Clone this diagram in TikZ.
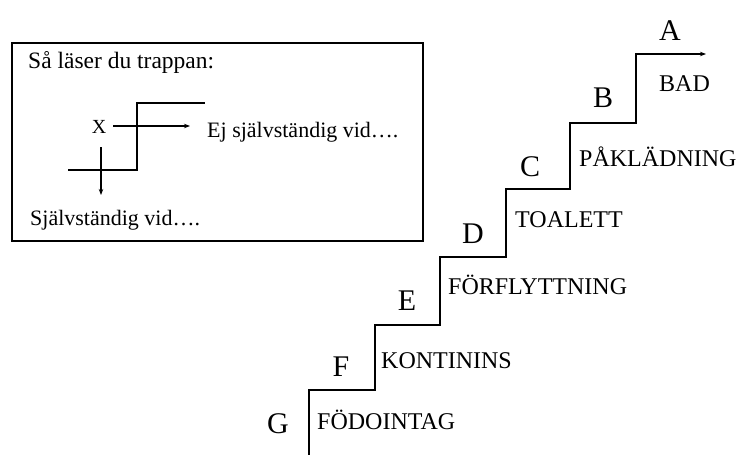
\documentclass[tikz,border=0pt]{standalone}
\usepackage{fontspec}
\setmainfont{Liberation Serif}
\usetikzlibrary{arrows.meta}
\begin{document}
\begin{tikzpicture}[x=1pt,y=-1pt,
  line/.style={line width=1.6pt,line cap=rect},
  tip/.style={-{Stealth[length=6pt,width=4.5pt]}},
  letter/.style={anchor=base,inner sep=0pt,font=\fontsize{30}{30}\selectfont},
  stlabel/.style={anchor=base west,inner sep=0pt,font=\fontsize{24}{24}\selectfont},
  legtext/.style={anchor=base west,inner sep=0pt,font=\fontsize{22}{22}\selectfont}]
\useasboundingbox (0,0) rectangle (739,455);
% legend box
\draw[line width=1.5pt] (12,43) rectangle (423,241);
\node[anchor=base west,inner sep=0pt,font=\fontsize{23.5}{23.5}\selectfont] (title) at (28,68) {Så läser du trappan:};
\node[anchor=base,inner sep=0pt,font=\fontsize{20}{20}\selectfont] (x) at (99,133) {X};
\node[legtext] (ej) at (207,137) {Ej självständig vid….};
\node[legtext] (sj) at (30,225) {Självständig vid….};
\coordinate (l1) at (69,170);
\coordinate (l2) at (137,170);
\coordinate (l3) at (137,103);
\coordinate (l4) at (204,103);
\draw[line] (l1) -- (l2) -- (l3) -- (l4);
\coordinate (a1) at (113,126);
\coordinate (a2) at (190,126);
\draw[line width=1.5pt,tip] (a1) -- (a2);
\coordinate (d1) at (101,147);
\coordinate (d2) at (101,195);
\draw[line width=1.3pt,tip] (d1) -- (d2);
% staircase
\coordinate (s0) at (309,455);
\coordinate (s1) at (309,390);
\coordinate (s2) at (375,390);
\coordinate (s3) at (375,325);
\coordinate (s4) at (440,325);
\coordinate (s5) at (440,257);
\coordinate (s6) at (506,257);
\coordinate (s7) at (506,189);
\coordinate (s8) at (570,189);
\coordinate (s9) at (570,123);
\coordinate (s10) at (636,123);
\coordinate (s11) at (636,54);
\coordinate (s12) at (706,54);
\draw[line,tip] (s0) -- (s1) -- (s2) -- (s3) -- (s4) -- (s5) -- (s6) -- (s7) -- (s8) -- (s9) -- (s10) -- (s11) -- (s12);
% letters
\node[letter] (A) at (670,40) {A};
\node[letter] (B) at (603,107) {B};
\node[letter] (C) at (530,176) {C};
\node[letter] (D) at (473,243) {D};
\node[letter] (E) at (407,310) {E};
\node[letter] (F) at (341,376) {F};
\node[letter] (G) at (278,433) {G};
% labels
\node[stlabel] (bad) at (659,91) {BAD};
\node[stlabel] (pak) at (579,166) {PÅKLÄDNING};
\node[stlabel] (toa) at (515,227) {TOALETT};
\node[stlabel] (forf) at (448,294) {FÖRFLYTTNING};
\node[stlabel] (kont) at (381,368) {KONTININS};
\node[stlabel] (fod) at (317,429) {FÖDOINTAG};
\end{tikzpicture}
\end{document}
